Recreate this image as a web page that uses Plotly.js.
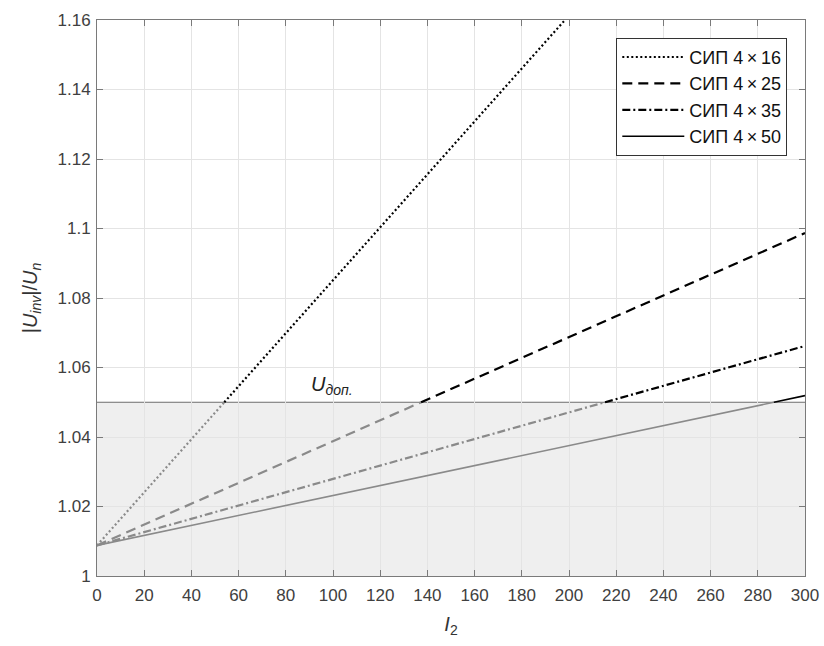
<!DOCTYPE html>
<html>
<head>
<meta charset="utf-8">
<script src="https://cdn.plot.ly/plotly-3.0.1.min.js"></script>
<style>html,body{margin:0;padding:0;background:#fff;}#chart{width:824px;height:646px;}</style>
</head>
<body>
<div id="chart"></div>
<script>
// ---- data ----
const currentI2 = [0, 50, 100, 150, 200, 250, 300];
const sip16 = [1.0088, 1.0470, 1.0851, 1.1232, 1.1613, 1.1994, 1.2375];
const sip25 = [1.0088, 1.0238, 1.0388, 1.0538, 1.0688, 1.0838, 1.0987];
const sip35 = [1.0088, 1.0184, 1.0279, 1.0375, 1.0471, 1.0566, 1.0662];
const sip50 = [1.0088, 1.0160, 1.0232, 1.0303, 1.0375, 1.0447, 1.0519];
const seriesNames = ["СИП 4\u2009×\u200916", "СИП 4\u2009×\u200925", "СИП 4\u2009×\u200935", "СИП 4\u2009×\u200950"];
const uAllowed = 1.05;
const xTicks = [0, 20, 40, 60, 80, 100, 120, 140, 160, 180, 200, 220, 240, 260, 280, 300];
const yTickVals = [1, 1.02, 1.04, 1.06, 1.08, 1.1, 1.12, 1.14, 1.16];
const yTickText = ["1", "1.02", "1.04", "1.06", "1.08", "1.1", "1.12", "1.14", "1.16"];

// split a series into part below and above threshold (crossing found by linear interpolation)
function split(xs, ys, thr) {
  const lo = {x: [], y: []}, hi = {x: [], y: []};
  for (let i = 0; i < xs.length; i++) {
    if (i > 0) {
      const y0 = ys[i - 1], y1 = ys[i];
      if ((y0 - thr) * (y1 - thr) < 0) {
        const xc = xs[i - 1] + (thr - y0) / (y1 - y0) * (xs[i] - xs[i - 1]);
        lo.x.push(xc); lo.y.push(thr);
        hi.x.push(xc); hi.y.push(thr);
      }
    }
    if (ys[i] <= thr) { lo.x.push(xs[i]); lo.y.push(ys[i]); }
    else { hi.x.push(xs[i]); hi.y.push(ys[i]); }
  }
  return {lo, hi};
}

const allSeries = [sip16, sip25, sip35, sip50];
const dashes = ["2px,2.5px", "10px,6px", "8px,3px,2px,3px", "solid"];
const widths = [2.2, 2.2, 2.2, 1.6];
const traces = [];
allSeries.forEach((ys, k) => {
  const s = split(currentI2, ys, uAllowed);
  traces.push({x: s.lo.x, y: s.lo.y, mode: "lines", showlegend: false, hoverinfo: "skip",
    line: {color: "#8a8a8a", width: widths[k], dash: dashes[k]}});
});
allSeries.forEach((ys, k) => {
  const s = split(currentI2, ys, uAllowed);
  traces.push({x: s.hi.x.length ? s.hi.x : [null], y: s.hi.y.length ? s.hi.y : [null],
    mode: "lines", name: seriesNames[k],
    line: {color: "#000000", width: widths[k], dash: dashes[k]}});
});

const font = "Liberation Sans, Arial, sans-serif";
const layout = {
  width: 824, height: 646,
  margin: {l: 97, r: 19, t: 20, b: 70},
  paper_bgcolor: "#ffffff", plot_bgcolor: "#ffffff",
  font: {family: font, size: 17, color: "#404040"},
  showlegend: true,
  legend: {x: 0.975, xanchor: "right", y: 0.968, yanchor: "top",
    bgcolor: "#ffffff", bordercolor: "#333333", borderwidth: 1, itemwidth: 62,
    font: {family: font, size: 18, color: "#111111"}, tracegroupgap: 0},
  xaxis: {range: [0, 300], tickvals: xTicks, ticktext: xTicks.map(String),
    showgrid: true, gridcolor: "#e4e4e4", gridwidth: 1, zeroline: false,
    showline: true, linecolor: "#7a7a7a", linewidth: 1, mirror: "ticks",
    ticks: "inside", ticklen: 6, tickcolor: "#7a7a7a", ticklabelstandoff: 4,
    tickfont: {family: font, size: 17, color: "#404040"},
    title: {text: "<i>I</i><sub>2</sub>", font: {family: font, size: 20, color: "#333333"}, standoff: 12}},
  yaxis: {range: [1, 1.16], tickvals: yTickVals, ticktext: yTickText,
    showgrid: true, gridcolor: "#e4e4e4", gridwidth: 1, zeroline: false,
    showline: true, linecolor: "#7a7a7a", linewidth: 1, mirror: "ticks",
    ticks: "inside", ticklen: 6, tickcolor: "#7a7a7a", ticklabelstandoff: 2,
    tickfont: {family: font, size: 17, color: "#404040"},
    title: {text: "|<i>U</i><sub><i>inv</i></sub>|/<i>U</i><sub><i>n</i></sub>", font: {family: font, size: 20, color: "#333333"}, standoff: 14}},
  shapes: [
    {type: "rect", xref: "x", yref: "y", x0: 0, x1: 300, y0: 1, y1: uAllowed,
      fillcolor: "#efefef", line: {width: 0}, layer: "below"},
    {type: "line", xref: "x", yref: "y", x0: 0, x1: 300, y0: uAllowed, y1: uAllowed,
      line: {color: "#6e6e6e", width: 1}, layer: "below"}
  ],
  annotations: [
    {x: 90, y: uAllowed, xref: "x", yref: "y", xanchor: "left", yanchor: "bottom", yshift: 2,
      text: "<i>U</i><sub><i>доп.</i></sub>", showarrow: false,
      font: {family: font, size: 20, color: "#222222"}}
  ]
};
Plotly.newPlot("chart", traces, layout, {displayModeBar: false, staticPlot: true});
</script>
</body>
</html>
